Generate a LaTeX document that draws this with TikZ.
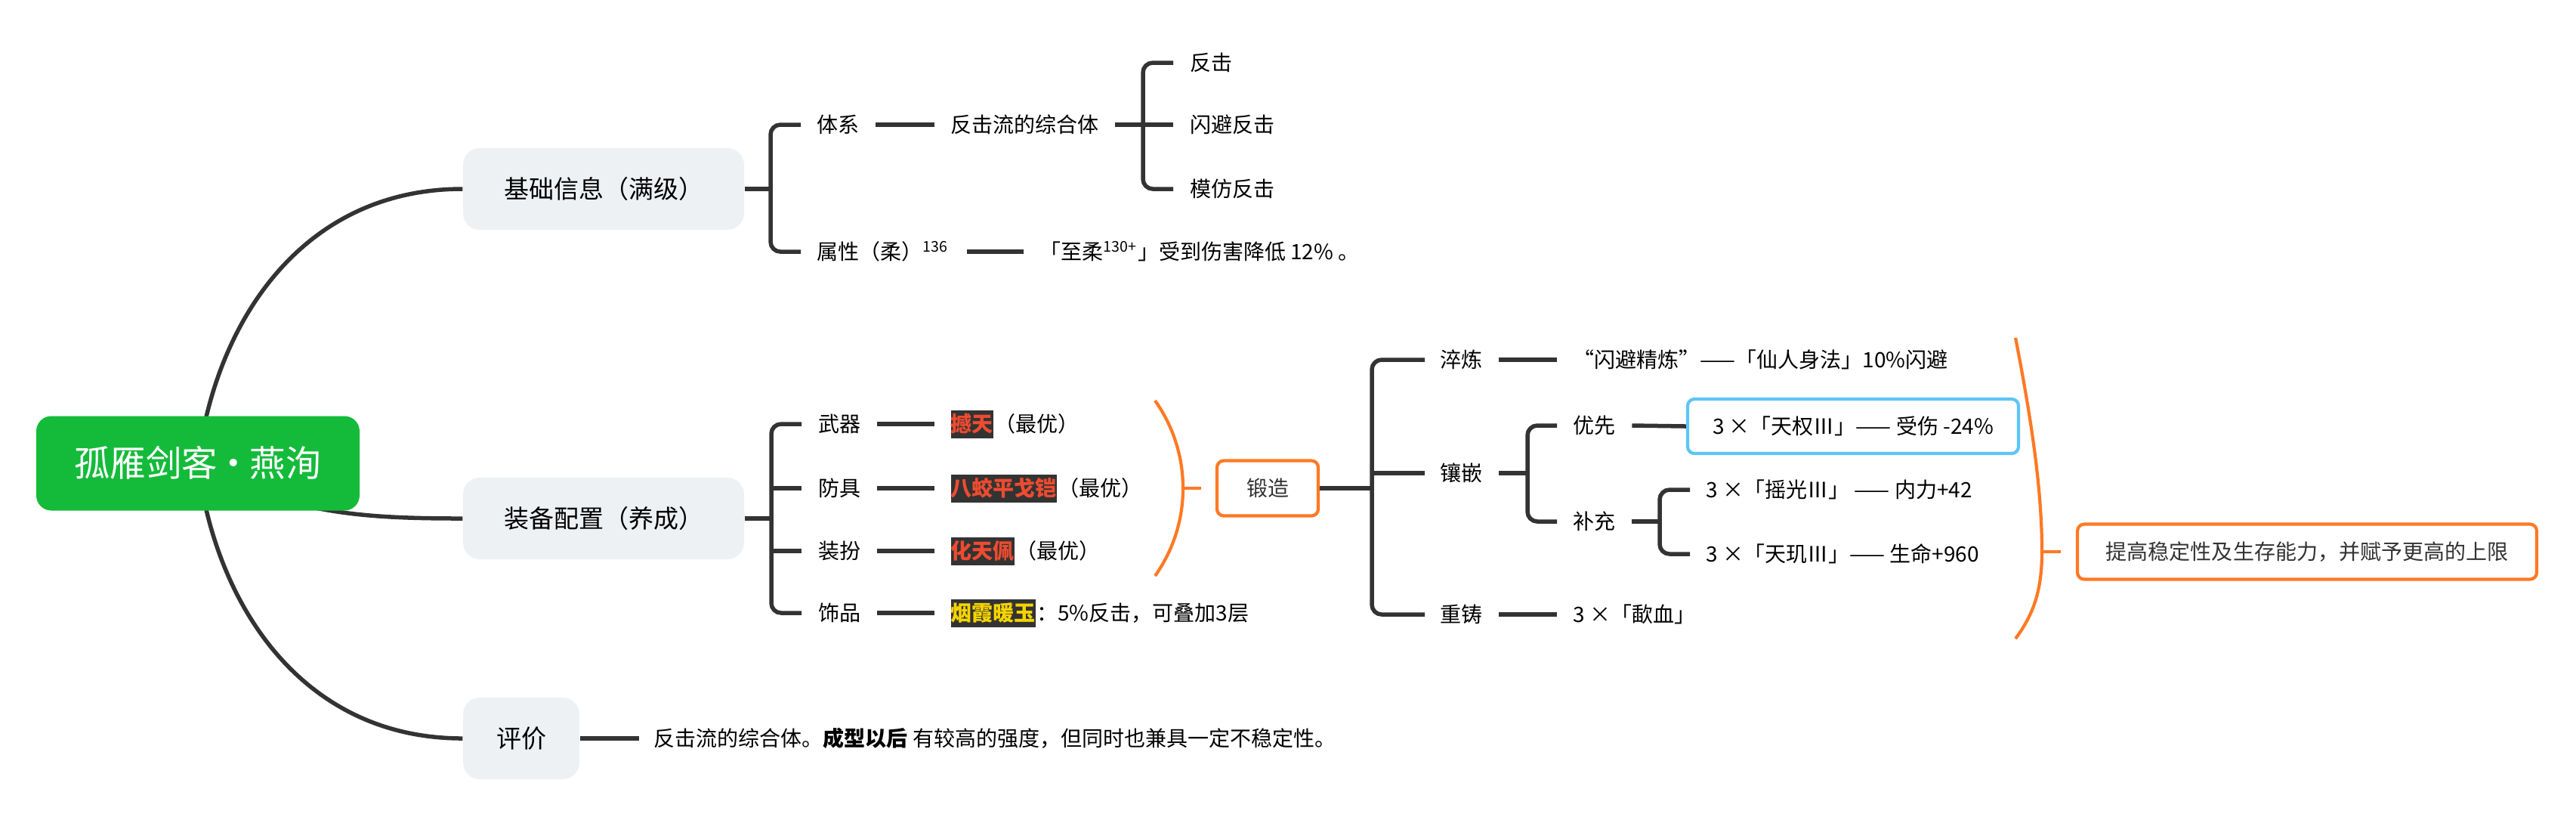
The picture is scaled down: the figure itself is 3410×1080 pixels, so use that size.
\documentclass[tikz,border=0pt]{standalone}
\usepackage{fontspec}
\setmainfont{Noto Sans CJK SC}
\usepackage{xcolor}
\usepackage{tikz}
\usetikzlibrary{positioning}

\definecolor{linegray}{RGB}{51,51,51}
\definecolor{rootgreen}{RGB}{20,187,58}
\definecolor{topicgray}{RGB}{238,241,244}
\definecolor{sumorange}{RGB}{255,121,36}
\definecolor{gemblue}{RGB}{94,197,245}
\definecolor{hlred}{RGB}{238,75,48}
\definecolor{hlyellow}{RGB}{245,212,0}

\begin{document}
\begin{tikzpicture}[x=0.1mm, y=-0.1mm,
  link/.style={draw=linegray, line width=0.55mm},
  bracket/.style={link, rounded corners=1.3mm},
  sumline/.style={draw=sumorange, line width=0.42mm},
  txt/.style={anchor=west, inner sep=0pt, text height=2.46mm, text depth=0.34mm,
    font=\fontsize{7.97}{9.5}\selectfont, text=black},
  hl/.style={txt, fill=linegray, minimum height=3.7mm,
    font=\fontsize{7.97}{9.5}\selectfont\bfseries},
  topic/.style={fill=topicgray, rounded corners=2.2mm, minimum height=10.8mm,
    text height=2.9mm, text depth=0.4mm, font=\fontsize{9.39}{11}\selectfont},
  root/.style={fill=rootgreen, rounded corners=2mm, minimum width=42.8mm, minimum height=12.5mm,
    text=white, text height=4.1mm, text depth=0.56mm, font=\fontsize{13.5}{15}\selectfont},
  forgebox/.style={draw=sumorange, line width=0.42mm, rounded corners=0.9mm,
    minimum width=13.4mm, minimum height=7.3mm, text=linegray,
    text height=2.46mm, text depth=0.34mm, font=\fontsize{7.97}{9.5}\selectfont},
  sumbox/.style={forgebox, minimum width=60.8mm},
  gembox/.style={draw=gemblue, line width=0.42mm, rounded corners=0.9mm,
    minimum width=43.8mm, minimum height=7.2mm, text=black,
    text height=2.46mm, text depth=0.34mm, font=\fontsize{7.97}{9.5}\selectfont}]
\fill[white] (0,0) rectangle (3410,1080);
\useasboundingbox (0,0) rectangle (3410,1080);

% Main topics and the curves from the central node
\node[topic, minimum width=37.2mm] (base) at (799,250) {基础信息（满级）};
\node[topic, minimum width=37.2mm] (gear) at (799,686) {装备配置（养成）};
\node[topic, minimum width=15.4mm] (eval) at (690,977) {评价};
\coordinate (herocore) at (262,613);
\draw[link] (herocore) .. controls (285,426) and (400,250) .. (base.west);
\draw[link] (herocore) .. controls (380,680) and (480,686) .. (gear.west);
\draw[link] (herocore) .. controls (285,800) and (400,977) .. (eval.west);
\node[root] (hero) at (262,613) {孤雁剑客\kern-0.05em·\kern-0.05em燕洵};

% Basic info
\node[txt] (tixi) at (1081,165) {体系};
\node[txt] (liu) at (1258,165) {反击流的综合体};
\node[txt] (fj1) at (1575,83) {反击};
\node[txt] (fj2) at (1575,165) {闪避反击};
\node[txt] (fj3) at (1575,250) {模仿反击};
\node[txt] (attr) at (1081,333) {属性（柔）\textsuperscript{136}};
\node[txt] (attrv) at (1376,333) {「至柔\textsuperscript{130+}」受到伤害降低 12\% 。};
\coordinate (basefork) at (1020,250);
\draw[link] (base.east) -- (basefork);
\draw[bracket] ([xshift=-2.1mm]tixi.west) -| (basefork) |- ([xshift=-2.1mm]attr.west);
\draw[link] ([xshift=2.1mm]tixi.east) -- ([xshift=-2.1mm]liu.west);
\draw[link] ([xshift=2.3mm]attr.east) -- ([xshift=-2.1mm]attrv.west);
\coordinate (liufork) at (1513,165);
\draw[link] ([xshift=2mm]liu.east) -- (liufork);
\draw[bracket] ([xshift=-2.2mm]fj1.west) -| (liufork) |- ([xshift=-2.2mm]fj3.west);
\draw[link] (liufork) -- ([xshift=-2.2mm]fj2.west);

% Gear
\node[txt] (weapon) at (1083,561) {武器};
\node[txt] (armor) at (1083,646) {防具};
\node[txt] (dress) at (1083,729) {装扮};
\node[txt] (trinket) at (1083,811) {饰品};
\node[hl, text=hlred] (hant) at (1258,561) {撼天};
\node[txt, right=0pt of hant] (hantnote) {（最优）};
\node[hl, text=hlred] (bajiao) at (1258,646) {八蛟平戈铠};
\node[txt, right=0pt of bajiao] (bajiaonote) {（最优）};
\node[hl, text=hlred] (huatian) at (1258,729) {化天佩};
\node[txt, right=0pt of huatian] (huatiannote) {（最优）};
\node[hl, text=hlyellow] (yanxia) at (1258,811) {烟霞暖玉};
\node[txt, right=0pt of yanxia] (yanxianote) {：5\%反击，可叠加3层};
\coordinate (gearfork) at (1021,686);
\draw[link] (gear.east) -- (gearfork);
\draw[bracket] ([xshift=-2.2mm]weapon.west) -| (gearfork) |- ([xshift=-2.2mm]trinket.west);
\foreach \n in {armor,dress} \draw[link] ([xshift=-2.2mm]\n.west) -- (gearfork |- \n.west);
\foreach \a/\b in {weapon/hant, armor/bajiao, dress/huatian, trinket/yanxia}
  \draw[link] ([xshift=2.1mm]\a.east) -- ([xshift=-2.1mm]\b.west);

% Summary: forging
\coordinate (sumtop) at (1529,530);
\coordinate (sumtip) at (1566,646);
\coordinate (sumbot) at (1529,762);
\draw[sumline] (sumtop) .. controls (1553,564) and (1566,604) .. (sumtip)
  .. controls (1566,688) and (1553,728) .. (sumbot);
\node[forgebox] (forge) at (1678,646) {锻造};
\draw[sumline] (sumtip) -- ([xshift=-1.9mm]forge.west);

\node[txt] (cuilian) at (1906,476) {淬炼};
\node[txt] (xiangqian) at (1906,626) {镶嵌};
\node[txt] (chongzhu) at (1906,813) {重铸};
\coordinate (forgefork) at (1816,646);
\draw[link] (forge.east) -- (forgefork);
\draw[bracket] ([xshift=-2mm]cuilian.west) -| (forgefork) |- ([xshift=-2mm]chongzhu.west);
\draw[link] ([xshift=-2mm]xiangqian.west) -- (forgefork |- xiangqian.west);
\node[txt] (cuilianv) at (2082,476) {“闪避精炼”——「仙人身法」10\%闪避};
\draw[link] ([xshift=2.1mm]cuilian.east) -- ([xshift=-2.1mm]cuilianv.west);

% Inlay
\node[txt] (youxian) at (2082,563) {优先};
\node[txt] (buchong) at (2082,690) {补充};
\coordinate (inlayfork) at (2022,626);
\draw[link] ([xshift=2.1mm]xiangqian.east) -- (inlayfork);
\draw[bracket] ([xshift=-2.1mm]youxian.west) -| (inlayfork) |- ([xshift=-2.1mm]buchong.west);
\node[gembox] (tianquan) at (2453,564) {3 ×「天权Ⅲ」—— 受伤 -24\%};
\draw[link] ([xshift=2.1mm]youxian.east) -- (tianquan.west);
\node[txt] (yaoguang) at (2258,648) {3 ×「摇光Ⅲ」 —— 内力+42};
\node[txt] (tianji) at (2258,733) {3 ×「天玑Ⅲ」—— 生命+960};
\coordinate (fillfork) at (2197,690);
\draw[link] ([xshift=2.1mm]buchong.east) -- (fillfork);
\draw[bracket] ([xshift=-2.1mm]yaoguang.west) -| (fillfork) |- ([xshift=-2.1mm]tianji.west);

% Recast
\node[txt] (xiexue) at (2082,813) {3 ×「歃血」};
\draw[link] ([xshift=2.1mm]chongzhu.east) -- ([xshift=-2.1mm]xiexue.west);

% Summary: verdict on forging
\coordinate (sumtwotop) at (2668,447);
\coordinate (sumtwotip) at (2703,730);
\coordinate (sumtwobot) at (2668,845);
\draw[sumline] (sumtwotop) .. controls (2690,560) and (2703,650) .. (sumtwotip)
  .. controls (2703,785) and (2690,815) .. (sumtwobot);
\node[sumbox] (verdict) at (3054,730) {提高稳定性及生存能力，并赋予更高的上限};
\draw[sumline] (sumtwotip) -- ([xshift=-2mm]verdict.west);

% Evaluation
\node[txt] (evalv) at (865,977) {反击流的综合体。\textbf{成型以后} 有较高的强度，但同时也兼具一定不稳定性。};
\draw[link] (eval.east) -- ([xshift=-1.9mm]evalv.west);
\end{tikzpicture}
\end{document}
